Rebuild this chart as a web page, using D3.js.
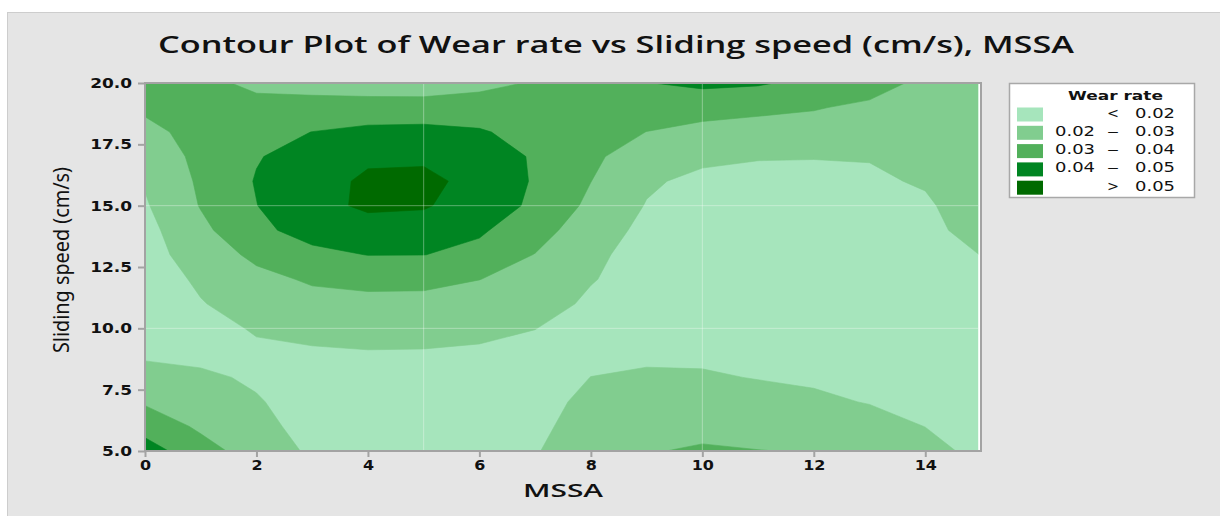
<!DOCTYPE html>
<html><head><meta charset="utf-8">
<script src="https://cdn.jsdelivr.net/npm/d3@7"></script>
<style>body{margin:0;background:#fff;overflow:hidden}</style>
</head><body><svg id="chart" width="1220" height="516"></svg>
<script>
// ---- data ----
const mssa = [0,1,2,3,4,5,6,7,8,9,10,11,12,13,14,15];
const slidingSpeed = [5,6,7,8,9,10,11,12,13,14,15,16,17,18,19,20];
// wear rate, one row per sliding speed (5 .. 20), columns follow MSSA 0 .. 15
const wearRate = [
 [.0445,.0338,.0255,.0185,.017,.0175,.0185,.0197,.0227,.029,.0318,.0302,.0295,.027,.0235,.0171],
 [.0362,.0284,.023,.0165,.0155,.016,.0175,.0188,.0223,.0255,.0256,.0265,.025,.0235,.0199,.016],
 [.0289,.0245,.0207,.0163,.015,.0155,.017,.018,.0214,.0228,.023,.0228,.0215,.0196,.018,.0158],
 [.0235,.0215,.0188,.0165,.016,.0165,.0175,.0175,.02005,.021,.0208,.0197,.0188,.018,.017,.016],
 [.0183,.0176,.0185,.0185,.0195,.0193,.0188,.0183,.0185,.0186,.0185,.0175,.017,.0168,.0165,.0163],
 [.016,.017,.0208,.0237,.0235,.0237,.0221,.0201,.0175,.0167,.0165,.016,.016,.016,.016,.0168],
 [.015,.0195,.024,.027,.0275,.0275,.0262,.0238,.0185,.0163,.016,.0158,.0158,.0158,.016,.0175],
 [.015,.0215,.0275,.0311,.0325,.0322,.0301,.0272,.0205,.0165,.016,.0158,.0158,.016,.0163,.019],
 [.016,.0249,.032,.0375,.0402,.0401,.0381,.0296,.0214,.0175,.0163,.016,.0162,.0165,.017,.0201],
 [.017,.0277,.0377,.0438,.048,.0475,.0409,.0358,.022,.019,.017,.0168,.017,.0175,.018,.0228],
 [.019,.0305,.0398,.0485,.0508,.0505,.0474,.0375,.028,.0195,.0172,.0175,.0178,.018,.0185,.026],
 [.0208,.0315,.0406,.0465,.0515,.0515,.0481,.0389,.0301,.0214,.0176,.0185,.0185,.0185,.021,.0275],
 [.024,.0323,.0394,.044,.0485,.049,.046,.0388,.0321,.024,.0221,.0203,.0202,.0205,.024,.028],
 [.028,.0325,.037,.0401,.0425,.043,.0405,.0382,.034,.0299,.026,.0255,.0267,.026,.0255,.0283],
 [.0312,.033,.0335,.034,.0336,.0336,.0372,.036,.036,.034,.03525,.0325,.0305,.0285,.027,.0285],
 [.034,.033,.0275,.026,.0256,.0254,.0258,.0312,.0375,.0398,.0415,.041,.0375,.0333,.0281,.0285]
];
const levels = [0.02, 0.03, 0.04, 0.05];
const bandColors = ["#a6e5bc", "#81cd8f", "#52b05b", "#008522", "#006a00"];
const legendLow = ["", "0.02", "0.03", "0.04", ""];
const legendSign = ["<", "\u2013", "\u2013", "\u2013", ">"];
const legendHigh = ["0.02", "0.03", "0.04", "0.05", "0.05"];
const xTicks = [0,2,4,6,8,10,12,14];
const yTicks = [5,7.5,10,12.5,15,17.5,20];
const refX = [5,10];
const refY = [10,15];

// ---- drawing ----
const svg = d3.select("#chart");
svg.append("rect").attr("x",7.5).attr("y",12.5).attr("width",1230).attr("height",520)
  .attr("fill","#e5e5e5").attr("stroke","#cdcdcd");

const x = d3.scaleLinear().domain([0,15]).range([145,981]);
const y = d3.scaleLinear().domain([5,20]).range([451,83]);

svg.append("rect").attr("x",x(0)).attr("y",y(20)).attr("width",x(15)-x(0)).attr("height",y(5)-y(20)).attr("fill","#ffffff");

svg.append("clipPath").attr("id","clip").append("rect")
  .attr("x",x(0)).attr("y",y(20)).attr("width",x(14.95)-x(0)).attr("height",y(5)-y(20));

const nx = mssa.length, ny = slidingSpeed.length;
const dxStep = mssa[1]-mssa[0], dyStep = slidingSpeed[1]-slidingSpeed[0];
const contours = d3.contours().size([nx, ny]).thresholds(levels)(wearRate.flat());
const proj = d3.geoTransform({point: function(px, py){
  this.stream.point(x(mssa[0] + (px-0.5)*dxStep), y(slidingSpeed[0] + (py-0.5)*dyStep));
}});
const path = d3.geoPath(proj);

const g = svg.append("g").attr("clip-path","url(#clip)");
g.append("rect").attr("x",x(0)).attr("y",y(20)).attr("width",x(15)-x(0)).attr("height",y(5)-y(20)).attr("fill",bandColors[0]);
g.selectAll("path.band").data(contours).join("path").attr("class","band")
  .attr("d", path).attr("fill",(d,i)=>bandColors[i+1])
  .attr("stroke",(d,i)=>bandColors[i+1]).attr("stroke-width",0.6).attr("stroke-linejoin","round");

// reference lines
g.selectAll("line.rx").data(refX).join("line").attr("class","rx")
  .attr("x1",d=>x(d)).attr("x2",d=>x(d)).attr("y1",y(5)).attr("y2",y(20))
  .attr("stroke","#ffffff").attr("stroke-opacity",0.35).attr("stroke-width",1);
g.selectAll("line.ry").data(refY).join("line").attr("class","ry")
  .attr("y1",d=>y(d)).attr("y2",d=>y(d)).attr("x1",x(0)).attr("x2",x(15))
  .attr("stroke","#ffffff").attr("stroke-opacity",0.35).attr("stroke-width",1);

// frame
svg.append("rect").attr("x",x(0)).attr("y",y(20)).attr("width",x(15)-x(0)).attr("height",y(5)-y(20))
  .attr("fill","none").attr("stroke","#a3a3a3").attr("stroke-width",2);

const tickFont = "DejaVu Sans";
const yAxis = svg.append("g").attr("transform",`translate(${x(0)},0)`)
  .call(d3.axisLeft(y).tickValues(yTicks).tickFormat(d3.format(".1f")).tickSize(7).tickPadding(6));
const xAxis = svg.append("g").attr("transform",`translate(0,${y(5)})`)
  .call(d3.axisBottom(x).tickValues(xTicks).tickFormat(d3.format("d")).tickSize(6).tickPadding(3));
[yAxis, xAxis].forEach(a=>{
  a.select(".domain").remove();
  a.selectAll(".tick line").attr("stroke","#a3a3a3").attr("stroke-width",2);
  a.selectAll(".tick text").attr("font-family",tickFont).attr("font-weight","bold")
    .attr("font-size",14.5).attr("fill","#111");
});
// horizontal stretch of tick labels, as in the reference
const syT = 1.17, sxT = 1.1;
yAxis.selectAll(".tick text").attr("x", -13/syT).attr("transform",`scale(${syT},1)`);
xAxis.selectAll(".tick text").attr("transform",`scale(${sxT},1)`);

// title
svg.append("text").attr("x",158).attr("y",53)
  .attr("font-family","Open Sans").attr("font-weight",600).attr("font-size",24).attr("fill","#111")
  .attr("textLength",916).attr("lengthAdjust","spacingAndGlyphs")
  .text("Contour Plot of Wear rate vs Sliding speed (cm/s), MSSA");

// axis labels
svg.append("text").attr("x",(x(0)+x(15))/2).attr("y",497).attr("text-anchor","middle")
  .attr("font-family","Open Sans").attr("font-weight",600).attr("font-size",18).attr("fill","#111")
  .attr("textLength",80).attr("lengthAdjust","spacingAndGlyphs").text("MSSA");
svg.append("text").attr("transform","translate(69,260) rotate(-90)").attr("text-anchor","middle")
  .attr("font-family","Noto Sans").attr("font-size",22).attr("fill","#111")
  .attr("textLength",186).attr("lengthAdjust","spacingAndGlyphs").text("Sliding speed (cm/s)");

// legend
const lg = svg.append("g");
lg.append("rect").attr("x",1009.5).attr("y",83.5).attr("width",185).attr("height",114)
  .attr("fill","#fff").attr("stroke","#a8a8a8").attr("stroke-width",1.5);
lg.append("text").attr("x",1068).attr("y",100).attr("font-family",tickFont).attr("font-weight","bold")
  .attr("font-size",13).attr("fill","#111").attr("textLength",95).attr("lengthAdjust","spacingAndGlyphs").text("Wear rate");
const rows = lg.selectAll("g.row").data(bandColors).join("g").attr("class","row")
  .attr("transform",(d,i)=>`translate(0,${107.5 + i*18.3})`);
rows.append("rect").attr("x",1017).attr("y",0).attr("width",26).attr("height",14).attr("fill",d=>d);
rows.append("text").attr("x",1055).attr("y",10).text((d,i)=>legendLow[i])
  .attr("textLength",(d,i)=>legendLow[i]?40:null);
rows.append("text").attr("x",1107).attr("y",10).text((d,i)=>legendSign[i])
  .attr("textLength",12);
rows.append("text").attr("x",1135).attr("y",10).text((d,i)=>legendHigh[i])
  .attr("textLength",40);
rows.selectAll("text").attr("font-family",tickFont).attr("font-size",13.5).attr("fill","#111")
  .attr("lengthAdjust","spacingAndGlyphs");
</script>
</body></html>
